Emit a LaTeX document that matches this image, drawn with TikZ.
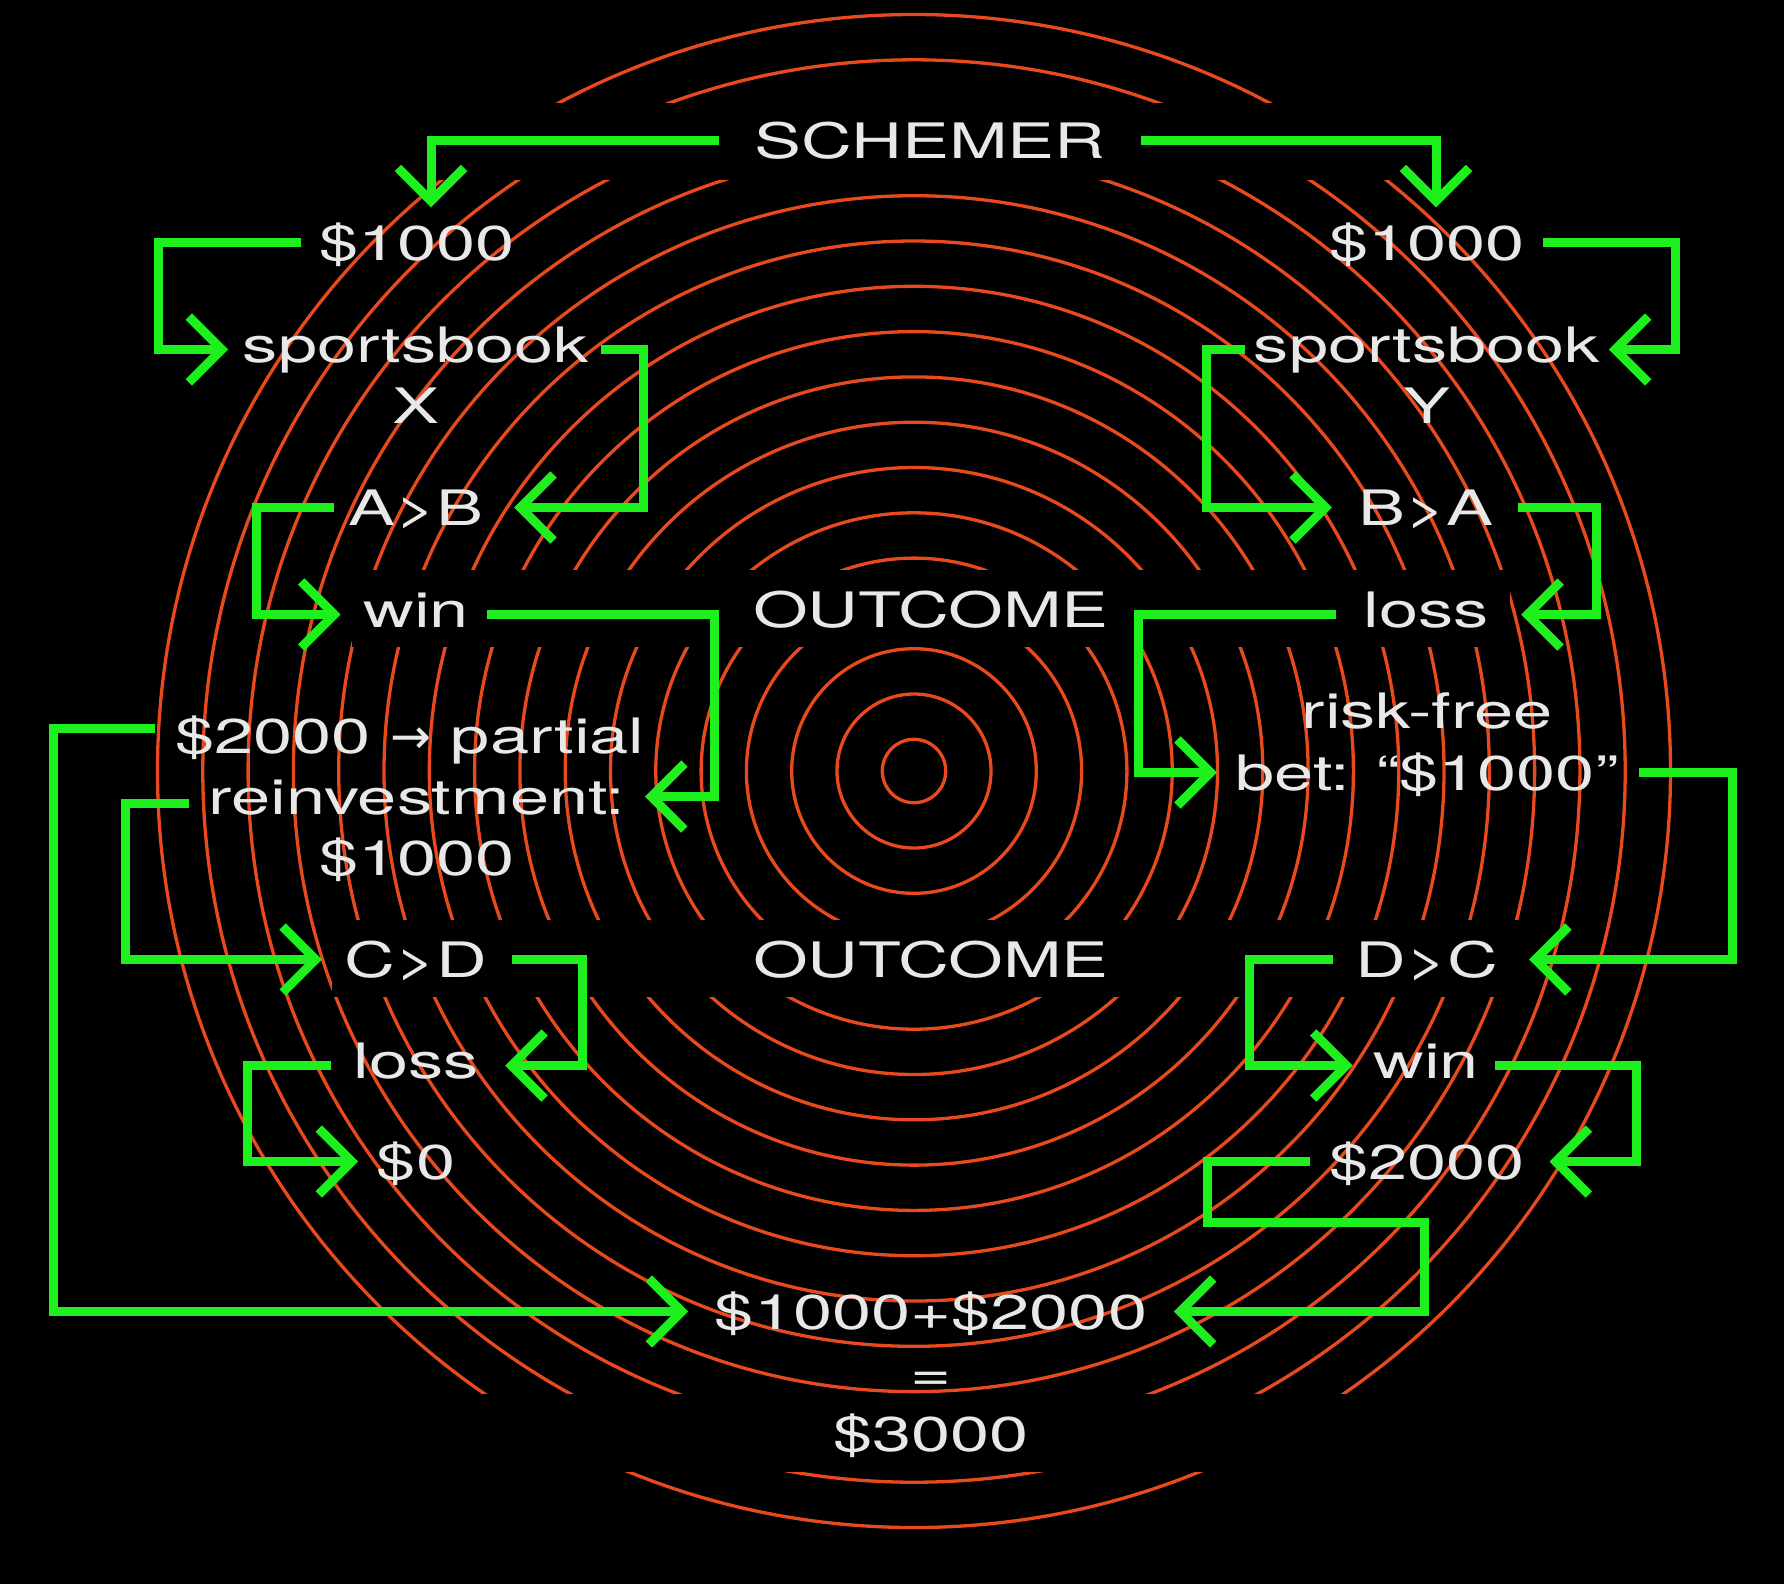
\documentclass[tikz,border=0pt]{standalone}
\usepackage{fontspec}
\setmainfont{TeX Gyre Heros}[FakeStretch=1.44]
\newfontfamily\arrowfont{DejaVu Sans}
\usetikzlibrary{arrows.meta}
\definecolor{neon}{RGB}{30,240,30}
\definecolor{ring}{RGB}{232,74,30}
\definecolor{ink}{RGB}{232,232,232}

\begin{document}
\begin{tikzpicture}[
    txt/.style={text=ink, inner sep=0pt, text height=0.35cm, text depth=0cm, font=\fontsize{13.9}{17.4}\selectfont},
    low/.style={txt, text height=0.25cm}, % lowercase rows: centre on x-height
    ring_line/.style={ring, line width=0.033cm},
    band/.style={fill=black},
    flow/.style={neon, line width=0.09cm, line join=miter, -{Straight Barb[length=0.33cm, width=0.66cm, sharp]}}
]

    % --- background and page size ---
    \fill[black] (0,0) rectangle (17.84,-15.84);
    \useasboundingbox (0,0) rectangle (17.84,-15.84);

    % --- target rings ---
    \coordinate (C) at (9.14,-7.71);
    \foreach \k in {0,...,16}
        \draw[ring_line] (C) circle ({0.317+0.453*\k});

    % --- black strips behind the text rows ---
    \fill[band] (3.32,-1.03) rectangle (15.30,-1.80);
    \fill[band] (3.52,-5.70) rectangle (15.10,-6.47);
    \fill[band] (3.32,-9.20) rectangle (15.30,-9.97);
    \fill[band] (3.32,-13.94) rectangle (15.30,-14.72);

    % --- top ---
    \node[txt] (schemer) at (9.30,-1.405) {SCHEMER};

    % --- left column ---
    \node[txt] (usdL) at (4.17,-2.425) {\$1000};
    \node[low] (sbX) at (4.16,-3.495) {sportsbook};
    \node[txt] (sbXname) at (4.16,-4.055) {X};
    \node[txt] (ab) at (4.16,-5.075) {A>B};
    \node[low] (winL) at (4.16,-6.145) {win};
    \node[txt] (partA) at (4.10,-7.355) {\$2000 {\arrowfont →} partial};
    \node[low] (partB) at (4.17,-8.015) {reinvestment:};
    \node[txt] (partC) at (4.17,-8.575) {\$1000};
    \node[txt] (cd) at (4.16,-9.595) {C>D};
    \node[low] (lossL) at (4.16,-10.655) {loss};
    \node[txt] (zero) at (4.16,-11.615) {\$0};

    % --- middle column ---
    \node[txt] (outA) at (9.31,-6.095) {OUTCOME};
    \node[txt] (outB) at (9.31,-9.595) {OUTCOME};
    \node[txt] (sumA) at (9.31,-13.115) {\$1000+\$2000};
    \node[txt] (sumB) at (9.31,-13.725) {=};
    \node[txt] (sumC) at (9.31,-14.335) {\$3000};

    % --- right column ---
    \node[txt] (usdR) at (14.27,-2.425) {\$1000};
    \node[low] (sbY) at (14.27,-3.495) {sportsbook};
    \node[txt] (sbYname) at (14.27,-4.055) {Y};
    \node[txt] (ba) at (14.26,-5.075) {B>A};
    \node[low] (lossR) at (14.26,-6.145) {loss};
    \node[txt] (riskA) at (14.27,-7.105) {risk-free};
    \node[txt] (riskB) at (14.27,-7.725) {bet: “\$1000”};
    \node[txt] (dc) at (14.27,-9.595) {D>C};
    \node[low] (winR) at (14.26,-10.655) {win};
    \node[txt] (usdTwo) at (14.27,-11.615) {\$2000};

    % --- flow: left branch ---
    \draw[flow] ([xshift=-0.35cm]schemer.west) -| ([xshift=0.14cm,yshift=0.17cm]usdL.north);
    \draw[flow] ([xshift=-0.18cm]usdL.west) -- ++(-1.42,0) |- ([xshift=-0.14cm]sbX.west);
    \draw[flow] ([xshift=0.11cm]sbX.east) -- ++(0.43,0) |- ([xshift=0.30cm]ab.east);
    \draw[flow] ([xshift=-0.14cm]ab.west) -- ++(-0.77,0) |- ([xshift=-0.22cm]winL.west);
    \draw[flow] ([xshift=0.18cm]winL.east) -- ++(2.27,0) |- ([xshift=0.19cm,yshift=0.05cm]partB.east);
    \draw[flow] ([xshift=-0.20cm,yshift=0.07cm]partA.west) -- ++(-1.01,0) |- ([xshift=-0.26cm]sumA.west);
    \draw[flow] ([xshift=-0.19cm,yshift=-0.02cm]partB.west) -- ++(-0.63,0) |- ([xshift=-0.22cm]cd.west);
    \draw[flow] ([xshift=0.24cm]cd.east) -- ++(0.70,0) |- ([xshift=0.26cm]lossL.east);
    \draw[flow] ([xshift=-0.22cm]lossL.west) -- ++(-0.83,0) |- ([xshift=-0.18cm]zero.west);

    % --- flow: right branch ---
    \draw[flow] ([xshift=0.35cm]schemer.east) -| ([xshift=0.09cm,yshift=0.17cm]usdR.north);
    \draw[flow] ([xshift=0.17cm]usdR.east) -- ++(1.33,0) |- ([xshift=0.08cm]sbY.east);
    \draw[flow] ([xshift=-0.08cm]sbY.west) -- ++(-0.39,0) |- ([xshift=-0.26cm]ba.west);
    \draw[flow] ([xshift=0.24cm]ba.east) -- ++(0.78,0) |- ([xshift=0.32cm]lossR.east);
    \draw[flow] ([xshift=-0.27cm]lossR.west) -- ++(-1.97,0) |- ([xshift=-0.18cm]riskB.west);
    \draw[flow] ([xshift=0.20cm]riskB.east) -- ++(0.93,0) |- ([xshift=0.30cm]dc.east);
    \draw[flow] ([xshift=-0.22cm]dc.west) -- ++(-0.83,0) |- ([xshift=-0.20cm]winR.west);
    \draw[flow] ([xshift=0.16cm]winR.east) -- ++(1.41,0) |- ([xshift=0.24cm]usdTwo.east);
    \draw[flow] ([xshift=-0.19cm]usdTwo.west) -- ++(-1.02,0) -- ++(0,-0.61) -- ++(2.17,0) |- ([xshift=0.26cm]sumA.east);

\end{tikzpicture}
\end{document}
